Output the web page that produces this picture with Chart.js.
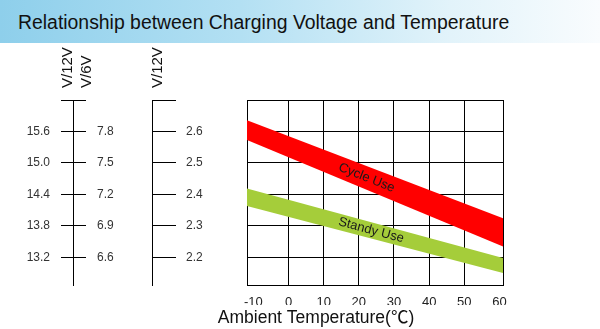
<!DOCTYPE html>
<html>
<head>
<meta charset="utf-8">
<script src="https://cdn.jsdelivr.net/npm/chart.js@4"></script>
<style>
  body { margin: 0; background: #fff; font-family: "Liberation Sans", Arial, sans-serif; }
  #wrap { position: relative; width: 600px; height: 329px; overflow: hidden; }
  canvas { position: absolute; left: 0; top: 0; }
  #banner { position: absolute; left: 0; top: 0; width: 600px; height: 43px;
    background: linear-gradient(to right, #8ecfeb 0%, #b3e0f3 40%, #e2f3fa 75%, #f9fcfe 100%); }
  #banner span { position: absolute; left: 18px; top: 12.8px; font-size: 19.4px; line-height: 19.4px; color: #111; white-space: nowrap; }
  .unit { position: absolute; top: 88px; transform-origin: 0 0; transform: rotate(-90deg);
    font-size: 15px; line-height: 15px; color: #111; white-space: nowrap; }
</style>
</head>
<body>
<div id="wrap">
  <canvas id="voltageChart" width="600" height="329"></canvas>
  <div id="banner"><span>Relationship between Charging Voltage and Temperature</span></div>
  <div class="unit" style="left:58.7px">V/12V</div>
  <div class="unit" style="left:78px">V/6V</div>
  <div class="unit" style="left:148.7px">V/12V</div>
</div>
<script>
// temperature axis
const tempTicks = [-10, 0, 10, 20, 30, 40, 50, 60];
// voltage axes (per cell, 12V battery, 6V battery)
const cellTicks = [2.2, 2.3, 2.4, 2.5, 2.6];
const v12Ticks = [13.2, 13.8, 14.4, 15.0, 15.6];
const v6Ticks = [6.6, 6.9, 7.2, 7.5, 7.8];

// bands, read at the left and right edge of the grid (V per cell)
const bandX = [-11.8, 61];
const cycleTop = [2.636, 2.324];
const cycleBottom = [2.573, 2.234];
const standbyTop = [2.419, 2.198];
const standbyBottom = [2.363, 2.150];

const bandNames = ['Cycle Use', 'Standy Use'];
const bandLabelX = [22.2, 23.5];

const cellMin = 2.112, cellMax = 2.7;
const FONT = '"Liberation Sans", Arial, sans-serif';
Chart.defaults.font.family = FONT;

function pts(ys) {
  return bandX.map((x, i) => ({x: x, y: ys[i]}));
}

function fixWidth(w) {
  return scale => { scale.width = w; };
}

function setTicks(values, cap) {
  return scale => { scale.ticks = values.concat([cap]).map(v => ({value: v})); };
}

// writes the band names along each band
const bandLabels = {
  id: 'bandLabels',
  afterDatasetsDraw(chart) {
    const {ctx, scales: {x, y}} = chart;
    const bands = [[cycleTop, cycleBottom], [standbyTop, standbyBottom]];
    bands.forEach(([top, bot], i) => {
      const x0 = x.getPixelForValue(bandX[0]);
      const x1 = x.getPixelForValue(bandX[1]);
      const y0 = y.getPixelForValue((top[0] + bot[0]) / 2);
      const y1 = y.getPixelForValue((top[1] + bot[1]) / 2);
      const t = (bandLabelX[i] - bandX[0]) / (bandX[1] - bandX[0]);
      ctx.save();
      ctx.translate(x0 + (x1 - x0) * t, y0 + (y1 - y0) * t);
      ctx.rotate(Math.atan2(y1 - y0, x1 - x0));
      ctx.font = '13px ' + FONT;
      ctx.fillStyle = '#1a1a1a';
      ctx.textAlign = 'center';
      ctx.textBaseline = 'middle';
      ctx.fillText(bandNames[i], 0, 0);
      ctx.restore();
    });
  }
};

const ctx = document.getElementById('voltageChart');

new Chart(ctx, {
  type: 'line',
  data: {
    datasets: [
      { data: pts(cycleBottom), borderWidth: 0, borderColor: 'transparent', pointRadius: 0, fill: false },
      { data: pts(cycleTop), borderWidth: 0, borderColor: 'transparent', pointRadius: 0, fill: '-1', backgroundColor: '#ff0000' },
      { data: pts(standbyBottom), borderWidth: 0, borderColor: 'transparent', pointRadius: 0, fill: false },
      { data: pts(standbyTop), borderWidth: 0, borderColor: 'transparent', pointRadius: 0, fill: '-1', backgroundColor: '#a5cd3a' }
    ]
  },
  options: {
    responsive: false,
    animation: false,
    // right padding below zero so the bottom title sits where the original has it
    layout: { padding: { left: 20, right: -12, top: 100, bottom: 0 } },
    plugins: {
      legend: { display: false },
      tooltip: { enabled: false },
      title: {
        display: true,
        position: 'bottom',
        text: 'Ambient Temperature(℃)',
        color: '#111',
        font: { size: 17.5, weight: 'normal', family: '"Liberation Sans", Arial, "Noto Sans CJK SC", sans-serif' },
        padding: { top: 2.5, bottom: 0.5 }
      }
    },
    scales: {
      x: {
        type: 'linear',
        min: bandX[0],
        max: bandX[1],
        afterBuildTicks: setTicks(tempTicks, bandX[1]),
        afterFit: scale => { scale.height = 20; },
        grid: {
          color: c => (c.tick && (c.tick.value === -10 || c.tick.value === 60)) ? 'transparent' : '#000',
          drawTicks: false
        },
        border: { color: '#000' },
        ticks: {
          padding: 9.5,
          color: '#222',
          font: { size: 13 },
          maxRotation: 0,
          autoSkip: false,
          callback: v => tempTicks.includes(v) ? String(v) : ''
        }
      },
      y: {
        position: 'left',
        weight: 1,
        min: cellMin,
        max: cellMax,
        afterBuildTicks: setTicks(cellTicks, cellMax),
        afterFit: fixWidth(95),
        grid: { color: '#000', drawTicks: false },
        border: { color: '#000' },
        ticks: { display: false }
      },
      y2: {
        position: 'left',
        weight: 2,
        min: cellMin,
        max: cellMax,
        afterBuildTicks: setTicks(cellTicks, cellMax),
        afterFit: fixWidth(79),
        grid: { color: '#000', drawOnChartArea: false, tickLength: -24 },
        border: { color: '#000' },
        ticks: {
          mirror: true, padding: 34, color: '#333', font: { size: 12 }, autoSkip: false,
          callback: v => v === cellMax ? '' : v.toFixed(1)
        }
      },
      y6: {
        position: 'left',
        weight: 3,
        min: cellMin * 3,
        max: cellMax * 3,
        afterBuildTicks: setTicks(v6Ticks, cellMax * 3),
        afterFit: fixWidth(0),
        grid: { color: '#000', drawOnChartArea: false, tickLength: -13 },
        border: { display: false },
        ticks: {
          mirror: true, padding: 24, color: '#333', font: { size: 12 }, autoSkip: false,
          callback: v => v === cellMax * 3 ? '' : v.toFixed(1)
        }
      },
      y12: {
        position: 'left',
        weight: 4,
        min: cellMin * 6,
        max: cellMax * 6,
        afterBuildTicks: setTicks(v12Ticks, cellMax * 6),
        afterFit: fixWidth(53),
        grid: { color: '#000', drawOnChartArea: false, tickLength: 12 },
        border: { color: '#000' },
        ticks: {
          padding: 11, color: '#333', font: { size: 12 }, autoSkip: false,
          callback: v => v === cellMax * 6 ? '' : v.toFixed(1)
        }
      },
      spacer: {
        position: 'right',
        min: 0,
        max: 1,
        afterFit: fixWidth(109),
        grid: { display: false },
        border: { display: false },
        ticks: { display: false }
      }
    }
  },
  plugins: [bandLabels]
});
</script>
</body>
</html>
